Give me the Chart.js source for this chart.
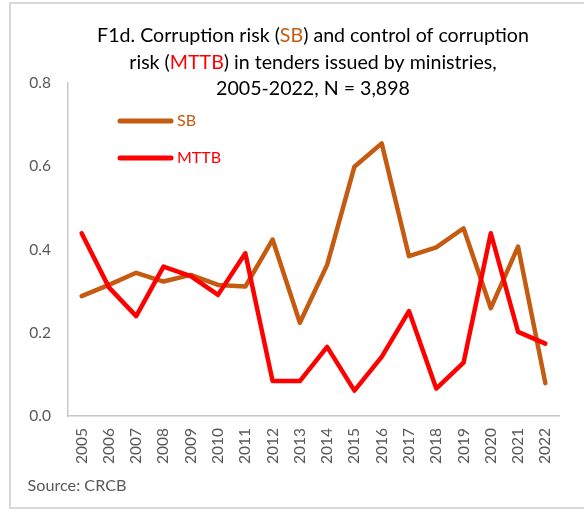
<!DOCTYPE html>
<html>
<head>
<meta charset="utf-8">
<script src="https://cdn.jsdelivr.net/npm/chart.js@4/dist/chart.umd.min.js"></script>
<style>
  html, body { margin: 0; padding: 0; background: #fff; }
  #wrap { width: 584px; height: 512px; position: relative; }
</style>
</head>
<body>
<div id="wrap"><canvas id="c" width="584" height="512"></canvas></div>
<script>
const categories = ['2005','2006','2007','2008','2009','2010','2011','2012','2013','2014','2015','2016','2017','2018','2019','2020','2021','2022'];
const sbValues   = [0.288,0.315,0.344,0.323,0.339,0.315,0.311,0.424,0.224,0.363,0.599,0.655,0.384,0.405,0.451,0.259,0.407,0.079];
const mttbValues = [0.439,0.309,0.240,0.359,0.336,0.291,0.391,0.084,0.084,0.166,0.061,0.142,0.252,0.066,0.128,0.439,0.202,0.174];
const seriesNames = ['SB', 'MTTB'];
const seriesColors = ['#C55A11', '#FF0000'];
const yTickValues = [0.0, 0.2, 0.4, 0.6, 0.8];
const titleLines = [
  [['F1d. Corruption risk (', null], ['SB', 0], [') and control of corruption', null]],
  [['risk (', null], ['MTTB', 1], [') in tenders issued by ministries,', null]],
  [['2005-2022, N = 3,898', null]]
];
const sourceText = 'Source: CRCB';

const FONT = 'Lato, "Open Sans", sans-serif';

function fitSize(ctx, text, target) {
  ctx.font = '100px ' + FONT;
  const w = ctx.measureText(text).width;
  return 100 * target / w;
}

const overlay = {
  id: 'overlay',
  beforeDraw(chart) {
    const ctx = chart.ctx;
    ctx.save();
    ctx.fillStyle = '#ffffff';
    ctx.fillRect(0, 0, chart.width, chart.height);
    ctx.strokeStyle = '#d9d9d9';
    ctx.lineWidth = 2;
    ctx.beginPath();
    ctx.moveTo(chart.width, 3);
    ctx.lineTo(10, 3);
    ctx.lineTo(10, 508);
    ctx.lineTo(chart.width, 508);
    ctx.stroke();
    ctx.restore();
  },
  afterDraw(chart) {
    const ctx = chart.ctx;
    const ca = chart.chartArea;
    ctx.save();
    // title
    const line1 = titleLines[0].map(s => s[0]).join('');
    const tSize = fitSize(ctx, line1, 432);
    ctx.font = tSize.toFixed(2) + 'px ' + FONT;
    ctx.textBaseline = 'middle';
    ctx.textAlign = 'left';
    const lineYs = [36, 62.5, 89];
    titleLines.forEach((segs, i) => {
      let total = 0;
      segs.forEach(s => { total += ctx.measureText(s[0]).width; });
      let x = 313 - total / 2;
      segs.forEach(s => {
        ctx.fillStyle = s[1] === null ? '#000000' : seriesColors[s[1]];
        ctx.fillText(s[0], x, lineYs[i]);
        x += ctx.measureText(s[0]).width;
      });
    });
    // legend
    chart.data.datasets.forEach((ds, i) => {
      const y = ca.top + 38 + i * 37;
      ctx.strokeStyle = ds.borderColor;
      ctx.lineWidth = 5;
      ctx.lineCap = 'round';
      ctx.beginPath();
      ctx.moveTo(ca.left + 52, y);
      ctx.lineTo(ca.left + 103, y);
      ctx.stroke();
      ctx.fillStyle = ds.borderColor;
      ctx.font = '16px ' + FONT;
      ctx.fillText(ds.label, ca.left + 109, y);
    });
    // source
    const sSize = fitSize(ctx, sourceText, 99);
    ctx.fillStyle = '#595959';
    ctx.font = sSize.toFixed(2) + 'px ' + FONT;
    ctx.fillText(sourceText, 27.5, 486);
    ctx.restore();
  }
};

new Chart(document.getElementById('c'), {
  type: 'line',
  data: {
    labels: categories,
    datasets: [
      { label: seriesNames[0], data: sbValues, borderColor: seriesColors[0], backgroundColor: seriesColors[0],
        borderWidth: 4.5, pointRadius: 0, tension: 0, borderJoinStyle: 'round', borderCapStyle: 'round', order: 2 },
      { label: seriesNames[1], data: mttbValues, borderColor: seriesColors[1], backgroundColor: seriesColors[1],
        borderWidth: 4.5, pointRadius: 0, tension: 0, borderJoinStyle: 'round', borderCapStyle: 'round', order: 1 }
    ]
  },
  options: {
    responsive: false,
    animation: false,
    layout: { padding: { top: 83, right: 25, bottom: 0, left: 0 } },
    plugins: { legend: { display: false }, title: { display: false }, tooltip: { enabled: false } },
    scales: {
      x: {
        offset: true,
        grid: { display: false, drawTicks: false },
        border: { display: true, color: '#c8c8c8', width: 1.5 },
        ticks: { color: '#595959', font: { family: FONT, size: 15.5 }, minRotation: 90, maxRotation: 90, padding: 12, autoSkip: false },
        afterFit(scale) { scale.height = 96; }
      },
      y: {
        min: 0, max: 0.8,
        afterBuildTicks(scale) { scale.ticks = yTickValues.map(v => ({ value: v })); },
        grid: { display: false, drawTicks: false },
        border: { display: true, color: '#c8c8c8', width: 1.5 },
        ticks: { color: '#595959', font: { family: FONT, size: 15.5 }, padding: 17, callback: v => Number(v).toFixed(1) },
        afterFit(scale) { scale.width = 68; }
      }
    }
  },
  plugins: [overlay]
});
</script>
</body>
</html>
